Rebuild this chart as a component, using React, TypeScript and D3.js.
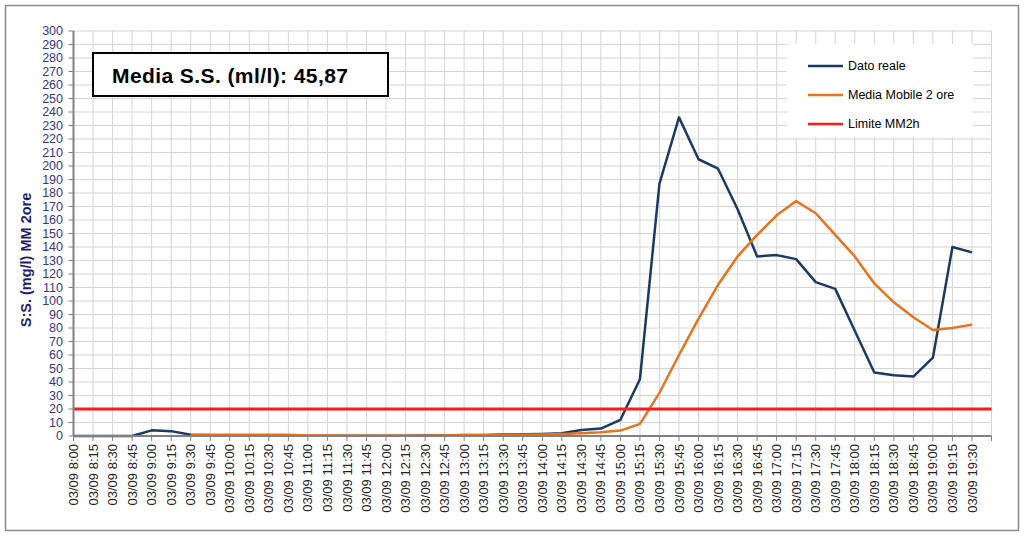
import React from "react";
import * as d3 from "d3";

const categories: string[] = [
  "03/09 8:00", "03/09 8:15", "03/09 8:30", "03/09 8:45", "03/09 9:00", "03/09 9:15",
  "03/09 9:30", "03/09 9:45", "03/09 10:00", "03/09 10:15", "03/09 10:30", "03/09 10:45",
  "03/09 11:00", "03/09 11:15", "03/09 11:30", "03/09 11:45", "03/09 12:00", "03/09 12:15",
  "03/09 12:30", "03/09 12:45", "03/09 13:00", "03/09 13:15", "03/09 13:30", "03/09 13:45",
  "03/09 14:00", "03/09 14:15", "03/09 14:30", "03/09 14:45", "03/09 15:00", "03/09 15:15",
  "03/09 15:30", "03/09 15:45", "03/09 16:00", "03/09 16:15", "03/09 16:30", "03/09 16:45",
  "03/09 17:00", "03/09 17:15", "03/09 17:30", "03/09 17:45", "03/09 18:00", "03/09 18:15",
  "03/09 18:30", "03/09 18:45", "03/09 19:00", "03/09 19:15", "03/09 19:30",
];

const datoReale: number[] = [
  0, 0, 0, 0, 4.2, 3.6, 1, 0.5, 0.5, 0.5, 0.5, 0.5,
  0.2, 0.2, 0.2, 0.2, 0.2, 0.2, 0.3, 0.4, 0.7, 0.8, 1.1, 1.3,
  1.5, 2, 4.5, 5.5, 12, 42, 187, 236, 205, 198, 168, 133,
  134, 131, 114, 109, 78, 47, 45, 44, 58, 140, 136,
];

const mediaMobile: (number | null)[] = [
  null, null, null, null, null, null, 1, 1, 1, 1, 1, 1,
  0.3, 0.3, 0.2, 0.2, 0.2, 0.2, 0.2, 0.3, 0.5, 0.6, 0.8, 1,
  1.2, 1.5, 2, 2.8, 4, 9, 32, 60, 87, 112, 133, 149,
  163.5, 174, 165, 149, 133, 113, 99, 88, 78.5, 80, 82.5,
];

const limite = 20;
const yTicks: number[] = d3.range(0, 301, 10);

const seriesNames = ["Dato reale", "Media Mobile 2 ore", "Limite MM2h"];
const seriesColors = ["#1b3a63", "#e8731f", "#ff1a1a"];

export default function App() {
  const W = 1024, H = 537;
  const left = 73.5, right = 991.5, top = 31, bottom = 436;
  const x = d3.scaleLinear().domain([0, categories.length]).range([left, right]);
  const y = d3.scaleLinear().domain([0, 300]).range([bottom, top]);
  const font = "'Liberation Sans', Arial, sans-serif";

  const lineGen = d3
    .line<number | null>()
    .defined((d) => d !== null)
    .x((_, i) => x(i))
    .y((d) => y(d as number));

  const gridX = d3.range(1, categories.length + 1);

  return (
    <svg width={W} height={H} style={{ position: "absolute", left: 0, top: 0, background: "#fff" }} fontFamily={font}>
      <rect x={5.5} y={5.5} width={1013} height={525} fill="#fff" stroke="#8c8c8c" strokeWidth={1.5} />
      {/* gridlines */}
      {yTicks.filter((t) => t > 0).map((t) => (
        <line key={"gy" + t} x1={left} x2={right} y1={y(t)} y2={y(t)} stroke="#d4d4d4" strokeWidth={1} />
      ))}
      {gridX.map((i) => (
        <line key={"gx" + i} x1={x(i)} x2={x(i)} y1={top} y2={bottom} stroke="#d4d4d4" strokeWidth={1} />
      ))}
      {/* legend background */}
      <rect x={787} y={44} width={186} height={93} fill="#fff" />
      {/* series */}
      <path d={lineGen(datoReale) || ""} fill="none" stroke={seriesColors[0]} strokeWidth={2.5} strokeLinejoin="round" />
      <path d={lineGen(mediaMobile) || ""} fill="none" stroke={seriesColors[1]} strokeWidth={2.5} strokeLinejoin="round" />
      <line x1={left} x2={right} y1={y(limite)} y2={y(limite)} stroke={seriesColors[2]} strokeWidth={3} />
      {/* axes */}
      <line x1={left} x2={left} y1={top} y2={bottom} stroke="#808080" strokeWidth={2} />
      {yTicks.map((t) => (
        <g key={"yt" + t}>
          <line x1={left - 5} x2={left} y1={y(t)} y2={y(t)} stroke="#808080" strokeWidth={1} />
          <text x={63} y={y(t)} dy="0.35em" textAnchor="end" fontSize={12.5} fill="#35358f">
            {t}
          </text>
        </g>
      ))}
      <line x1={left} x2={right} y1={bottom} y2={bottom} stroke="#808080" strokeWidth={2} />
      {d3.range(0, categories.length + 1).map((i) => (
        <line key={"xt" + i} x1={x(i)} x2={x(i)} y1={bottom} y2={bottom + 5} stroke="#808080" strokeWidth={1} />
      ))}
      {categories.map((c, i) => (
        <text
          key={"xl" + i}
          transform={`translate(${x(i)},444) rotate(-90)`}
          textAnchor="end"
          dy="0.35em"
          fontSize={13}
          fill="#222"
        >
          {c}
        </text>
      ))}
      <text
        transform="translate(31,260) rotate(-90)"
        textAnchor="middle"
        fontSize={14.5}
        fontWeight="bold"
        fill="#1c1c70"
      >
        S:S. (mg/l) MM 2ore
      </text>
      {/* title box */}
      <rect x={93} y={53} width={295} height={43} fill="#fff" stroke="#000" strokeWidth={2} />
      <text x={112} y={83} fontSize={21} fontWeight="bold" fill="#000" textLength={236} lengthAdjust="spacing">
        Media S.S. (ml/l): 45,87
      </text>
      {/* legend */}
      {seriesNames.map((n, i) => (
        <g key={"lg" + i}>
          <line x1={808} x2={843} y1={66 + i * 29} y2={66 + i * 29} stroke={seriesColors[i]} strokeWidth={2.5} />
          <text x={848} y={66 + i * 29} dy="0.35em" fontSize={12.5} fill="#000">
            {n}
          </text>
        </g>
      ))}
    </svg>
  );
}
